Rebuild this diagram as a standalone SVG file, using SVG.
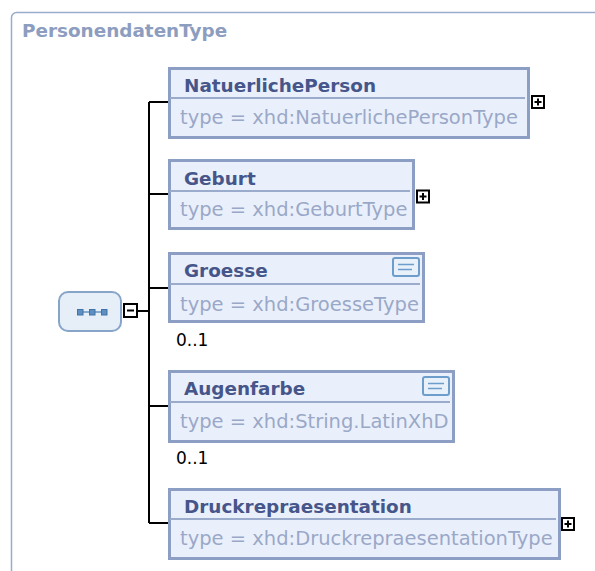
<svg xmlns="http://www.w3.org/2000/svg" width="595" height="571" viewBox="0 0 595 571">
<defs>
<style>
.frame{fill:#ffffff;stroke:#9aaccb;stroke-width:1.5}
.title{font-family:"DejaVu Sans","Liberation Sans",sans-serif;font-weight:bold;font-size:18.4px;fill:#8d9dc0}
.box{fill:#eaf0fb;stroke:#8d9ec4;stroke-width:3}
.div{stroke:#9aabcc;stroke-width:2}
.name{font-family:"DejaVu Sans","Liberation Sans",sans-serif;font-weight:bold;font-size:18.4px;fill:#46568a}
.type{font-family:"DejaVu Sans","Liberation Sans",sans-serif;font-size:19.5px;fill:#9aa8c8}
.occ{font-family:"DejaVu Sans","Liberation Sans",sans-serif;font-size:17px;fill:#000000}
.btn{fill:#ffffff;stroke:#000000;stroke-width:2}
.sym{stroke:#000000;stroke-width:2}
.conn{fill:none;stroke:#000000;stroke-width:2}
.doc{fill:#e8f0fa;stroke:#6c9dcb;stroke-width:2}
.docl{stroke:#6c9dcb;stroke-width:1.5}
.sq{fill:#5f8fc0;stroke:#3f74aa;stroke-width:1}
</style>
</defs>
<rect class="frame" x="11.5" y="12.5" width="600" height="600" rx="5"/>
<text class="title" x="22" y="37">PersonendatenType</text>

<g id="connectors">
<path class="conn" d="M138,311 H149 M149,102 V523 M149,102 H168 M149,194 H168 M149,288 H168 M149,406 H168 M149,523 H168"/>
</g>

<g id="sequence">
<rect x="59" y="292" width="62" height="39" rx="9" fill="#e6eef8" stroke="#86a5c8" stroke-width="2"/>
<line x1="80" y1="312" x2="105" y2="312" stroke="#4a7eb2" stroke-width="1.2"/>
<rect class="sq" x="77.5" y="309.5" width="5.5" height="5.5"/>
<rect class="sq" x="89.5" y="309.5" width="5.5" height="5.5"/>
<rect class="sq" x="101.5" y="309.5" width="5.5" height="5.5"/>
<rect class="btn" x="124" y="304" width="13" height="13"/>
<line class="sym" x1="127" y1="310.5" x2="134" y2="310.5"/>
</g>

<g id="NatuerlichePerson">
<rect class="box" x="169.5" y="68.5" width="359" height="69"/>
<line class="div" x1="170" y1="98" x2="525" y2="98"/>
<text class="name" x="184" y="92">NatuerlichePerson</text>
<text class="type" x="180" y="124">type = xhd:NatuerlichePersonType</text>
<rect class="btn" x="532" y="96" width="12" height="12"/>
<path class="sym" d="M534.5,102 H541.5 M538,98.5 V105.5"/>
</g>

<g id="Geburt">
<rect class="box" x="169.5" y="160.5" width="244" height="68"/>
<line class="div" x1="170" y1="191" x2="410" y2="191"/>
<text class="name" x="184" y="185">Geburt</text>
<text class="type" x="180" y="216">type = xhd:GeburtType</text>
<rect class="btn" x="417" y="190.5" width="12" height="12"/>
<path class="sym" d="M419.5,196.5 H426.5 M423,193 V200"/>
</g>

<g id="Groesse">
<rect class="box" x="169.5" y="253.5" width="254" height="68"/>
<line class="div" x1="170" y1="284" x2="420" y2="284"/>
<text class="name" x="184" y="277">Groesse</text>
<text class="type" x="180" y="311">type = xhd:GroesseType</text>
<rect class="doc" x="393" y="258" width="26" height="18" rx="2"/>
<line class="docl" x1="398" y1="264.5" x2="414" y2="264.5"/>
<line class="docl" x1="398" y1="269.5" x2="412" y2="269.5"/>
<text class="occ" x="176" y="346">0..1</text>
</g>

<g id="Augenfarbe">
<rect class="box" x="169.5" y="371.5" width="284" height="70"/>
<line class="div" x1="170" y1="402" x2="450" y2="402"/>
<text class="name" x="184" y="395">Augenfarbe</text>
<text class="type" x="180" y="428">type = xhd:String.LatinXhD</text>
<rect class="doc" x="423" y="377" width="26" height="18" rx="2"/>
<line class="docl" x1="428" y1="383.5" x2="444" y2="383.5"/>
<line class="docl" x1="428" y1="388.5" x2="442" y2="388.5"/>
<text class="occ" x="176" y="464">0..1</text>
</g>

<g id="Druckrepraesentation">
<rect class="box" x="169.5" y="489.5" width="390" height="69"/>
<line class="div" x1="170" y1="519" x2="556" y2="519"/>
<text class="name" x="184" y="513">Druckrepraesentation</text>
<text class="type" x="180" y="545">type = xhd:DruckrepraesentationType</text>
<rect class="btn" x="562" y="518" width="12" height="12"/>
<path class="sym" d="M564.5,524 H571.5 M568,520.5 V527.5"/>
</g>
</svg>
